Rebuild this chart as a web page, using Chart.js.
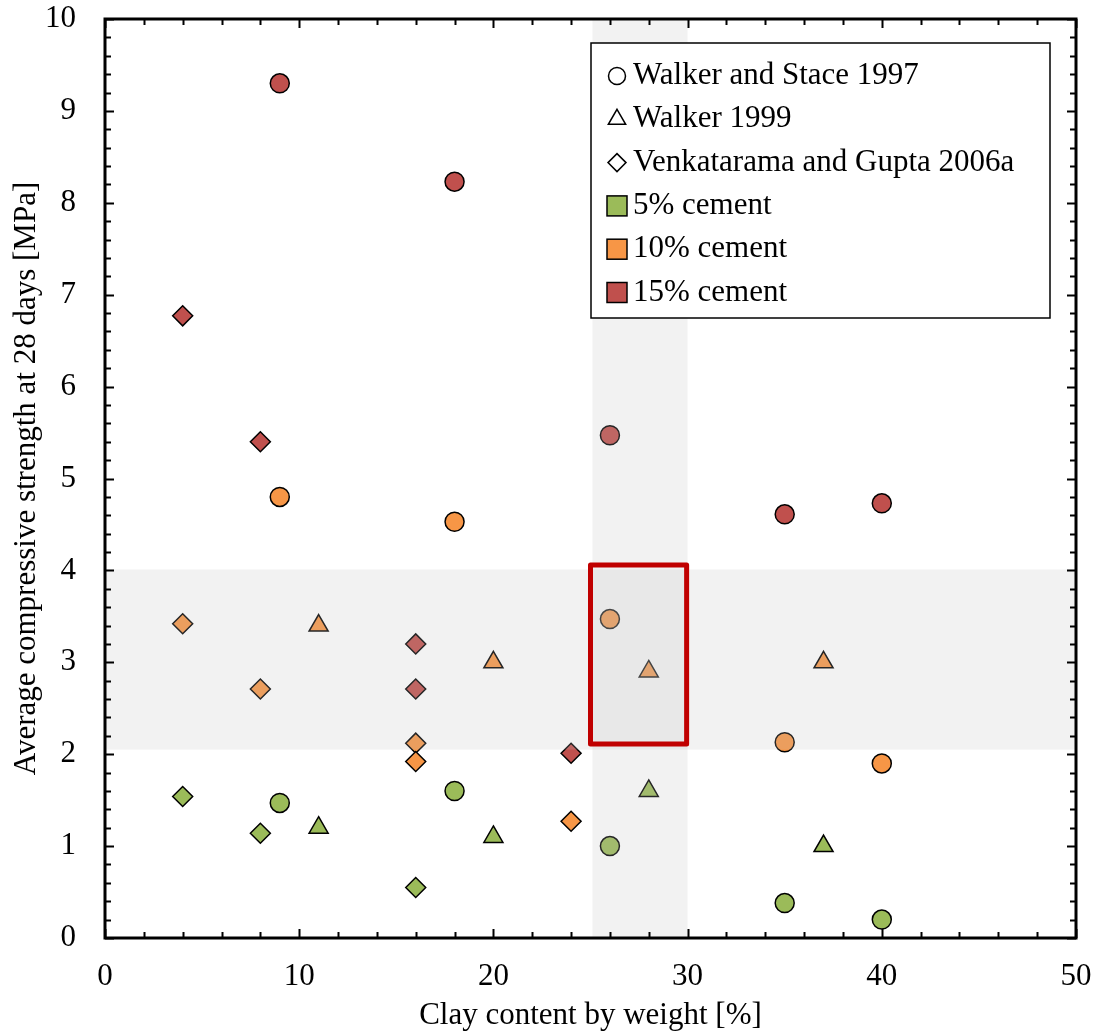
<!DOCTYPE html>
<html>
<head>
<meta charset="utf-8">
<script src="https://cdn.jsdelivr.net/npm/chart.js@4/dist/chart.umd.min.js"></script>
<style>
body{margin:0;background:#fff;}
</style>
</head>
<body>
<canvas id="my_Chart" width="1097" height="1034"></canvas>
<script>
// Walker and Stace 1997 (circles)
var clayStace=[9,18,26,35,40];
var stace5=[1.47,1.60,1.00,0.38,0.20];
var stace10=[4.80,4.53,3.47,2.13,1.90];
var stace15=[9.30,8.23,5.47,4.61,4.73];

// Walker 1999 (triangles)
var clayWalker=[11,20,28,37];
var walker5=[1.2,1.1,1.6,1.0];
var walker10=[3.4,3.0,2.9,3.0];

// Venkatarama and Gupta 2006a (diamonds)
var clayVenk5=[4,8,16];
var venk5=[1.54,1.14,0.55];
var clayVenk10=[4,8,16,16,24];
var venk10=[3.42,2.71,2.12,1.92,1.27];
var clayVenk15=[4,8,16,16,24];
var venk15=[6.77,5.40,3.20,2.71,2.01];

var sourceNames=['Walker and Stace 1997','Walker 1999','Venkatarama and Gupta 2006a'];
var cementNames=['5% cement','10% cement','15% cement'];
var cementColors=['#9BBB59','#F79646','#C0504D'];

var xTicks=[0,10,20,30,40,50];
var yTicks=[0,1,2,3,4,5,6,7,8,9,10];

// shaded ranges and highlighted box
var xBand=[25.1,30];
var yBand=[2.05,4.01];
var boxX=[25,29.95];
var boxY=[2.11,4.06];

var FONT='"Liberation Serif", "Times New Roman", serif';

function pts(xs,ys){
  var out=[];
  for(var i=0;i<xs.length;i++) out.push({x:xs[i],y:ys[i]});
  return out;
}

function ds(label,xs,ys,color,shape,r){
  return {
    label:label,
    data:pts(xs,ys),
    pointStyle:shape,
    pointRadius:r,
    backgroundColor:color,
    borderColor:'#000',
    borderWidth:1.5
  };
}

var myData={
  datasets:[
    ds('Stace 5%',clayStace,stace5,cementColors[0],'circle',9.5),
    ds('Stace 10%',clayStace,stace10,cementColors[1],'circle',9.5),
    ds('Stace 15%',clayStace,stace15,cementColors[2],'circle',9.5),
    ds('Walker 5%',clayWalker,walker5,cementColors[0],'triangle',11),
    ds('Walker 10%',clayWalker,walker10,cementColors[1],'triangle',11),
    ds('Venk 5%',clayVenk5,venk5,cementColors[0],'rectRot',10),
    ds('Venk 10%',clayVenk10,venk10,cementColors[1],'rectRot',10),
    ds('Venk 15%',clayVenk15,venk15,cementColors[2],'rectRot',10)
  ]
};

function noPad(s){
  s.paddingTop=0;s.paddingBottom=0;s.paddingLeft=0;s.paddingRight=0;
}

var decor={
  id:'decor',
  afterDatasetsDraw:function(chart){
    var ctx=chart.ctx, a=chart.chartArea;
    var xs=chart.scales.x, ys=chart.scales.y;
    ctx.save();
    // translucent bands over the points
    ctx.fillStyle='rgba(190,190,190,0.2)';
    var t=ys.getPixelForValue(yBand[1]), b=ys.getPixelForValue(yBand[0]);
    ctx.fillRect(a.left,t,a.right-a.left,b-t);
    var l=xs.getPixelForValue(xBand[0]), r=xs.getPixelForValue(xBand[1]);
    ctx.fillRect(l,a.top,r-l,a.bottom-a.top);

    // red box
    ctx.strokeStyle='#C00000';
    ctx.lineWidth=5;
    ctx.lineJoin='round';
    var bl=xs.getPixelForValue(boxX[0]), br=xs.getPixelForValue(boxX[1]);
    var bt=ys.getPixelForValue(boxY[1]), bb=ys.getPixelForValue(boxY[0]);
    ctx.strokeRect(bl,bt,br-bl,bb-bt);

    // frame
    ctx.strokeStyle='#000';
    ctx.lineWidth=3;
    ctx.lineJoin='miter';
    ctx.strokeRect(a.left,a.top,a.right-a.left,a.bottom-a.top);

    // inward ticks on all four sides
    ctx.lineWidth=2;
    ctx.beginPath();
    var v,p,len;
    for(v=0;v<=50;v+=2){
      p=Math.round(xs.getPixelForValue(v))+0.5;
      len=(v%10===0)?9:6;
      ctx.moveTo(p,a.bottom);ctx.lineTo(p,a.bottom-len);
      ctx.moveTo(p,a.top);ctx.lineTo(p,a.top+len);
    }
    for(var k=0;k<=50;k++){
      v=k/5;
      p=Math.round(ys.getPixelForValue(v))+0.5;
      len=(k%5===0)?9:6;
      ctx.moveTo(a.left,p);ctx.lineTo(a.left+len,p);
      ctx.moveTo(a.right,p);ctx.lineTo(a.right-len,p);
    }
    ctx.stroke();

    // legend
    var lx=591, ly=43, lw=459, lh=275;
    ctx.fillStyle='#fff';
    ctx.fillRect(lx,ly,lw,lh);
    ctx.lineWidth=1.5;
    ctx.strokeStyle='#000';
    ctx.strokeRect(lx,ly,lw,lh);
    ctx.font='31px '+FONT;
    ctx.textBaseline='middle';
    ctx.textAlign='left';
    var shapes=['circle','triangle','rectRot'];
    var radii=[8.5,10,9];
    var rowY=76, step=43.3;
    for(var i=0;i<3;i++){
      ctx.fillStyle='#fff';
      ctx.strokeStyle='#000';
      ctx.lineWidth=1.5;
      Chart.helpers.drawPoint(ctx,{pointStyle:shapes[i],radius:radii[i],borderWidth:1.5},617,rowY+i*step);
      ctx.fillStyle='#000';
      ctx.fillText(sourceNames[i],633,rowY+i*step);
    }
    for(var j=0;j<3;j++){
      var cy=rowY+(j+3)*step;
      ctx.fillStyle=cementColors[j];
      ctx.fillRect(607,cy-10,20,20);
      ctx.strokeStyle='#000';
      ctx.lineWidth=1.5;
      ctx.strokeRect(607,cy-10,20,20);
      ctx.fillStyle='#000';
      ctx.fillText(cementNames[j],633,cy);
    }
    ctx.restore();
  }
};

var ctx=document.getElementById('my_Chart').getContext('2d');
var myChart=new Chart(ctx,{
  type:'scatter',
  data:myData,
  plugins:[decor],
  options:{
    responsive:false,
    animation:false,
    events:[],
    layout:{padding:{top:19,right:21,left:0,bottom:0}},
    plugins:{legend:{display:false},tooltip:{enabled:false}},
    scales:{
      x:{
        type:'linear',min:0,max:50,
        afterBuildTicks:function(s){s.ticks=xTicks.map(function(v){return {value:v};});},
        afterFit:function(s){s.height=96;noPad(s);},
        grid:{display:false,drawTicks:false},
        border:{display:false},
        ticks:{color:'#000',font:{family:FONT,size:31},padding:20,maxRotation:0},
        title:{display:true,text:'Clay content by weight [%]',color:'#000',font:{family:FONT,size:31},padding:{top:9,bottom:0}}
      },
      y:{
        type:'linear',min:0,max:10,
        afterBuildTicks:function(s){s.ticks=yTicks.map(function(v){return {value:v};});},
        afterFit:function(s){s.width=105;noPad(s);},
        grid:{display:false,drawTicks:false},
        border:{display:false},
        ticks:{color:'#000',font:{family:FONT,size:31},padding:29},
        title:{display:true,text:'Average compressive strength at 28 days [MPa]',color:'#000',font:{family:FONT,size:31},padding:{top:8,bottom:0}}
      }
    }
  }
});
</script>
</body>
</html>
